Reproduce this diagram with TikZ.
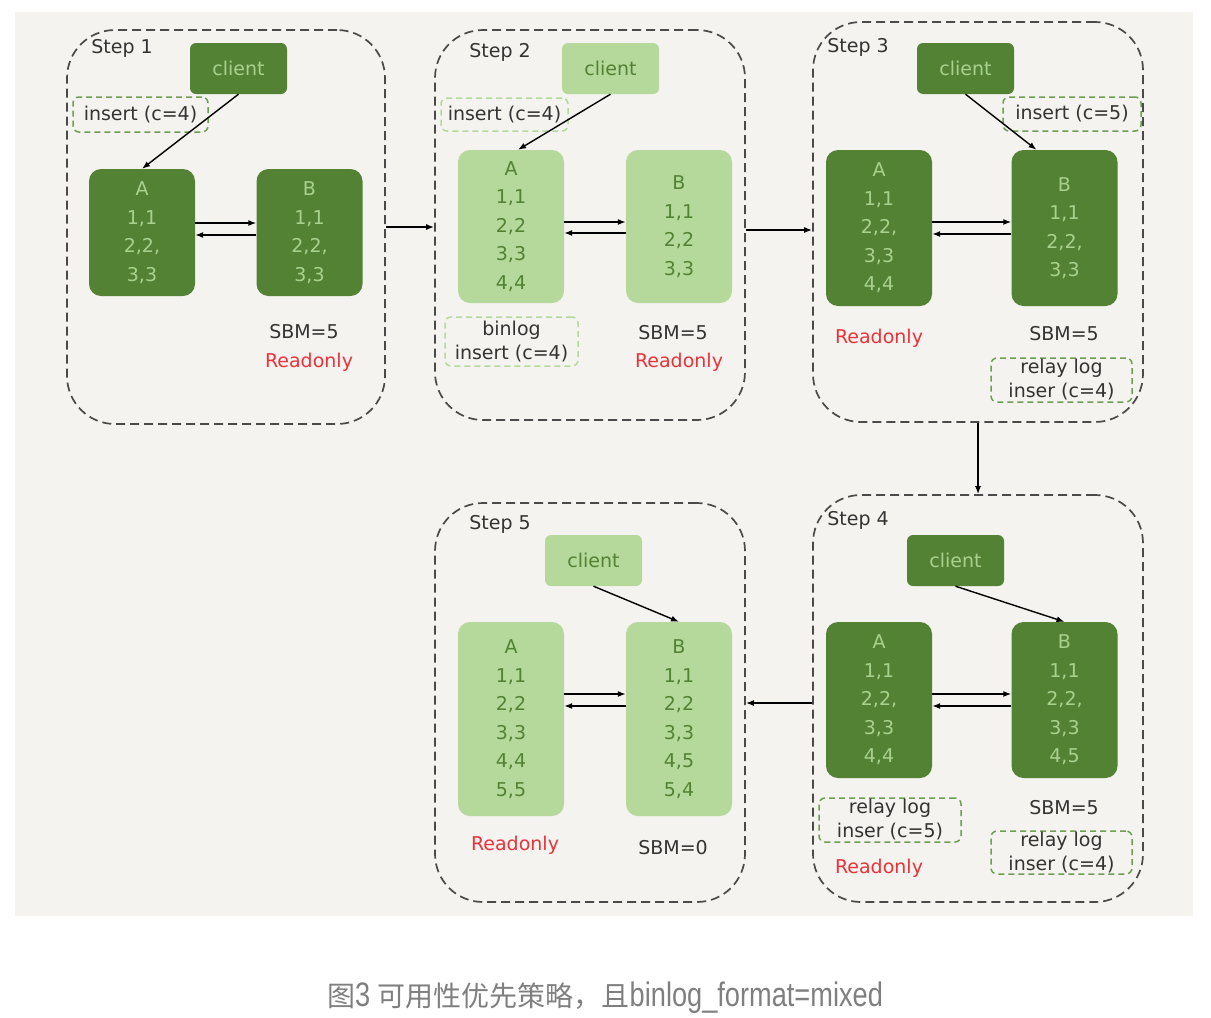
\documentclass[tikz,border=0pt]{standalone}
\usepackage{fontspec}
\setmainfont{DejaVu Sans}
\newfontfamily\cjk{Noto Sans CJK SC}
\newfontfamily\capfont[FakeStretch=0.8]{Liberation Sans}
\usetikzlibrary{arrows.meta}

\definecolor{dkgreen}{HTML}{548235}
\definecolor{ltgreen}{HTML}{A9D18E}
\definecolor{palegreen}{HTML}{B4D99B}
\definecolor{midgreen}{HTML}{6E9E52}
\definecolor{framegray}{HTML}{4A4A4A}
\definecolor{inkgray}{HTML}{333333}
\definecolor{rored}{HTML}{E8333A}
\definecolor{paper}{HTML}{F4F3EF}
\definecolor{capgray}{HTML}{7F7F7F}

\tikzset{
    hand/.style={font=\fontsize{19}{28.5}\selectfont},
    stepframe/.style={draw=framegray, line width=1.7pt, dash pattern=on 9pt off 5pt,
        rounded corners=48pt, inner sep=0pt},
    steplabel/.style={hand, text=inkgray},
    server/.style={hand, rounded corners=12pt, align=center, minimum width=106pt, inner sep=0pt},
    darkbox/.style={server, fill=dkgreen, text=ltgreen},
    lightbox/.style={server, fill=palegreen, text=dkgreen},
    clientbox/.style={hand, rounded corners=6pt, minimum width=97pt, minimum height=51pt, inner sep=0pt},
    logbox/.style={font=\fontsize{19}{24}\selectfont, text=inkgray, line width=1.5pt,
        dash pattern=on 6pt off 4pt, rounded corners=6pt, align=center, inner sep=0pt},
    note/.style={hand, text=inkgray},
    ro/.style={hand, text=rored},
    link/.style={-{Latex[length=8pt,width=6pt]}, line width=1.4pt},
}

\begin{document}
\begin{tikzpicture}[x=1pt, y=-1pt]
    \useasboundingbox (0,0) rectangle (1211,1018);
    \fill [paper] (15,12) rectangle (1193,916);

    % Step frames
    \node [stepframe, minimum width=318pt, minimum height=394pt] (s1) at (226,227) {};
    \node [stepframe, minimum width=310pt, minimum height=390pt] (s2) at (590,225) {};
    \node [stepframe, minimum width=330pt, minimum height=400pt] (s3) at (978,222) {};
    \node [stepframe, minimum width=330pt, minimum height=407pt] (s4) at (978,698.5) {};
    \node [stepframe, minimum width=310pt, minimum height=399pt] (s5) at (590,702.5) {};

    % Step 1
    \node [steplabel] (l1) at (122,48) {Step 1};
    \node [clientbox, fill=dkgreen, text=ltgreen] (c1) at (238.5,68.5) {client};
    \node [logbox, draw=midgreen, minimum width=135pt, minimum height=35pt] (i1) at (140.5,114.5) {insert (c=4)};
    \node [darkbox, minimum height=127pt] (a1) at (142,232.5) {A\\1,1\\2,2,\\3,3};
    \node [darkbox, minimum height=127pt] (b1) at (309.5,232.5) {B\\1,1\\2,2,\\3,3};
    \node [note] (sbm1) at (304,332) {SBM=5};
    \node [ro] (ro1) at (309,362) {Readonly};
    \draw [link] (c1.south) -- (a1.north);
    \draw [link] (a1.east |- 0,223) -- (b1.west |- 0,223);
    \draw [link] (b1.west |- 0,235) -- (a1.east |- 0,235);

    % Step 2
    \node [steplabel] (l2) at (500,52) {Step 2};
    \node [clientbox, fill=palegreen, text=dkgreen] (c2) at (610.5,68.5) {client};
    \node [logbox, draw=palegreen, minimum width=127pt, minimum height=33pt] (i2) at (504.5,114.5) {insert (c=4)};
    \node [lightbox, minimum height=153pt] (a2) at (511,226.5) {A\\1,1\\2,2\\3,3\\4,4};
    \node [lightbox, minimum height=153pt] (b2) at (679,226.5) {B\\1,1\\2,2\\3,3};
    \node [logbox, draw=palegreen, minimum width=133pt, minimum height=49pt] (g2) at (511.5,341.5) {binlog\\insert (c=4)};
    \node [note] (sbm2) at (673,333) {SBM=5};
    \node [ro] (ro2) at (679,362) {Readonly};
    \draw [link] (c2.south) -- ([xshift=7pt]a2.north);
    \draw [link] (a2.east |- 0,222) -- (b2.west |- 0,222);
    \draw [link] (b2.west |- 0,233) -- (a2.east |- 0,233);

    % Step 3
    \node [steplabel] (l3) at (858,47) {Step 3};
    \node [clientbox, fill=dkgreen, text=ltgreen] (c3) at (965.5,68.5) {client};
    \node [logbox, draw=midgreen, minimum width=138pt, minimum height=34pt] (i3) at (1072,114) {insert (c=5)};
    \node [darkbox, minimum height=156pt] (a3) at (879,228) {A\\1,1\\2,2,\\3,3\\4,4};
    \node [darkbox, minimum height=156pt] (b3) at (1064.5,228) {B\\1,1\\2,2,\\3,3};
    \node [ro] (ro3) at (879,338) {Readonly};
    \node [note] (sbm3) at (1064,334) {SBM=5};
    \node [logbox, draw=midgreen, minimum width=141pt, minimum height=44pt] (r3) at (1061.5,380) {relay log\\inser (c=4)};
    \draw [link] (c3.south) -- ([xshift=-28pt]b3.north);
    \draw [link] (a3.east |- 0,222) -- (b3.west |- 0,222);
    \draw [link] (b3.west |- 0,234) -- (a3.east |- 0,234);

    % Step 4
    \node [steplabel] (l4) at (858,520) {Step 4};
    \node [clientbox, fill=dkgreen, text=ltgreen] (c4) at (955.5,560.5) {client};
    \node [darkbox, minimum height=156pt] (a4) at (879,700) {A\\1,1\\2,2,\\3,3\\4,4};
    \node [darkbox, minimum height=156pt] (b4) at (1064.5,700) {B\\1,1\\2,2,\\3,3\\4,5};
    \node [logbox, draw=midgreen, minimum width=142pt, minimum height=44pt] (r4a) at (890,820) {relay log\\inser (c=5)};
    \node [ro] (ro4) at (879,868) {Readonly};
    \node [note] (sbm4) at (1064,808) {SBM=5};
    \node [logbox, draw=midgreen, minimum width=141pt, minimum height=43pt] (r4b) at (1061.5,852.5) {relay log\\inser (c=4)};
    \draw [link] (c4.south) -- (b4.north);
    \draw [link] (a4.east |- 0,694) -- (b4.west |- 0,694);
    \draw [link] (b4.west |- 0,706) -- (a4.east |- 0,706);

    % Step 5
    \node [steplabel] (l5) at (500,524) {Step 5};
    \node [clientbox, fill=palegreen, text=dkgreen] (c5) at (593.5,560.5) {client};
    \node [lightbox, minimum height=194pt] (a5) at (511,719) {A\\1,1\\2,2\\3,3\\4,4\\5,5};
    \node [lightbox, minimum height=194pt] (b5) at (679,719) {B\\1,1\\2,2\\3,3\\4,5\\5,4};
    \node [ro] (ro5) at (515,845) {Readonly};
    \node [note] (sbm5) at (673,848) {SBM=0};
    \draw [link] (c5.south) -- (b5.north);
    \draw [link] (a5.east |- 0,694) -- (b5.west |- 0,694);
    \draw [link] (b5.west |- 0,706) -- (a5.east |- 0,706);

    % Steps in order
    \draw [link] (s1.east) -- (s1.east -| s2.west);
    \draw [link] (s2.east |- 0,230) -- (s3.west |- 0,230);
    \draw [link] (s3.south) -- (s4.north);
    \draw [link] (s4.west |- 0,703) -- (s5.east |- 0,703);

    % Caption
    \node [text=capgray] (cap) at (605,998)
        {\fontsize{28}{30}\selectfont\cjk 图\capfont\fontsize{34}{38}\selectfont 3 \cjk\fontsize{28}{30}\selectfont 可用性优先策略，且\capfont\fontsize{34}{38}\selectfont binlog\_format=mixed};
\end{tikzpicture}
\end{document}
